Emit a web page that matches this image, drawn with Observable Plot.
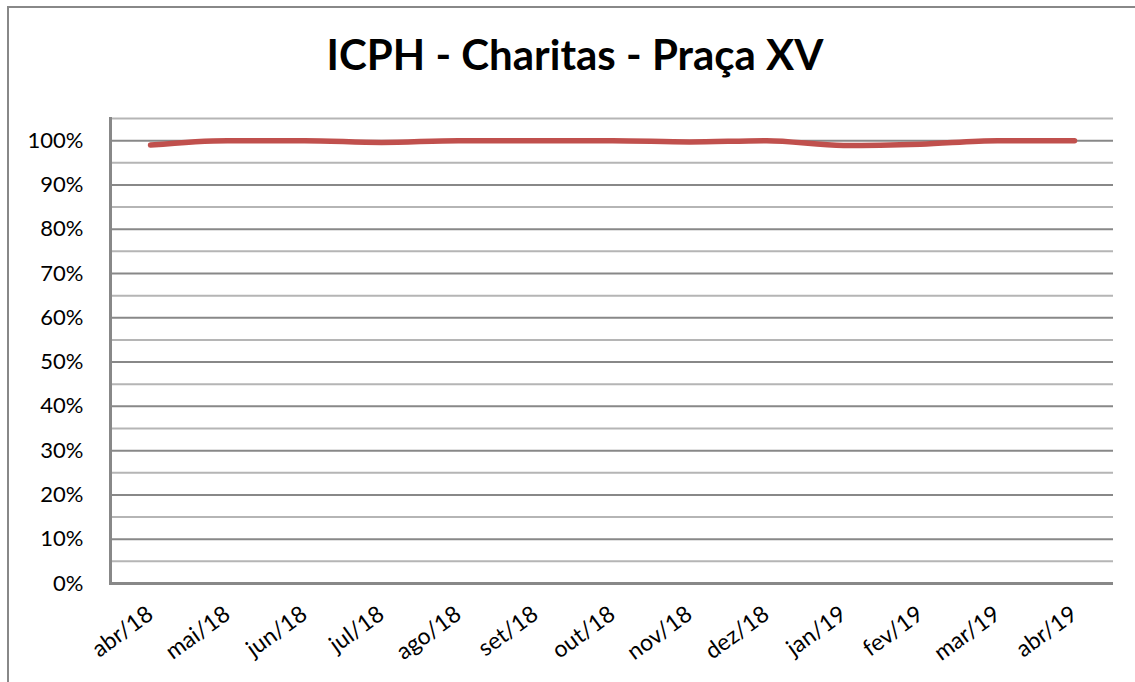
<!DOCTYPE html>
<html>
<head>
<meta charset="utf-8">
<script src="https://cdn.jsdelivr.net/npm/d3@7"></script>
<script src="https://cdn.jsdelivr.net/npm/@observablehq/plot@0.6"></script>
<style>
  html, body { margin: 0; padding: 0; background: #fff; overflow: hidden; }
  #wrap { position: relative; width: 1135px; height: 682px; overflow: hidden; }
  #border { position: absolute; left: 7px; top: 6px; width: 1140px; height: 700px; border: 2px solid #888; box-sizing: border-box; }
  #title { position: absolute; left: 0; width: 1150px; top: 33px; text-align: center; font-family: Lato, "Open Sans", sans-serif; font-weight: bold; font-size: 42px; line-height: 1; color: #000; }
  #chart { position: absolute; left: 0; top: 0; }
</style>
</head>
<body>
<div id="wrap">
  <div id="border"></div>
  <div id="chart"></div>
  <div id="title">ICPH - Charitas - Praça XV</div>
</div>
<script>
const months = ["abr/18","mai/18","jun/18","jul/18","ago/18","set/18","out/18","nov/18","dez/18","jan/19","fev/19","mar/19","abr/19"];
const values = [0.990, 1.0, 1.0, 0.996, 1.0, 1.0, 1.0, 0.997, 1.0, 0.989, 0.992, 1.0, 1.0];
const majorTicks = [0, 0.1, 0.2, 0.3, 0.4, 0.5, 0.6, 0.7, 0.8, 0.9, 1.0];
const minorTicks = [0.05, 0.15, 0.25, 0.35, 0.45, 0.55, 0.65, 0.75, 0.85, 0.95, 1.05];

const data = months.map((m, i) => ({month: m, value: values[i]}));

const chart = Plot.plot({
  width: 1135,
  height: 682,
  marginLeft: 110,
  marginRight: 22,
  marginTop: 118,
  marginBottom: 99,
  style: {background: "transparent", fontFamily: "Lato, 'Open Sans', sans-serif", color: "#000"},
  x: {type: "point", domain: months, padding: 0.5, label: null},
  y: {domain: [0, 1.05], label: null},
  marks: [
    Plot.ruleY(minorTicks, {stroke: "#b5b5b5", strokeWidth: 2}),
    Plot.ruleY(majorTicks.slice(1), {stroke: "#888", strokeWidth: 2}),
    Plot.ruleY([0], {stroke: "#888", strokeWidth: 3}),
    Plot.frame({anchor: "left", stroke: "#888", strokeWidth: 3}),
    Plot.axisY(majorTicks, {tickFormat: d3.format(".0%"), tickSize: 0, tickPadding: 27, fontSize: 22, fill: "#000", label: null}),
    Plot.axisX({tickSize: 0, tickRotate: -36, tickPadding: 28, fontSize: 23, fill: "#000", label: null}),
    Plot.line(data, {x: "month", y: "value", stroke: "#c0504d", strokeWidth: 5.5, curve: "monotone-x", strokeLinecap: "round"})
  ]
});
document.getElementById("chart").appendChild(chart);
</script>
</body>
</html>
